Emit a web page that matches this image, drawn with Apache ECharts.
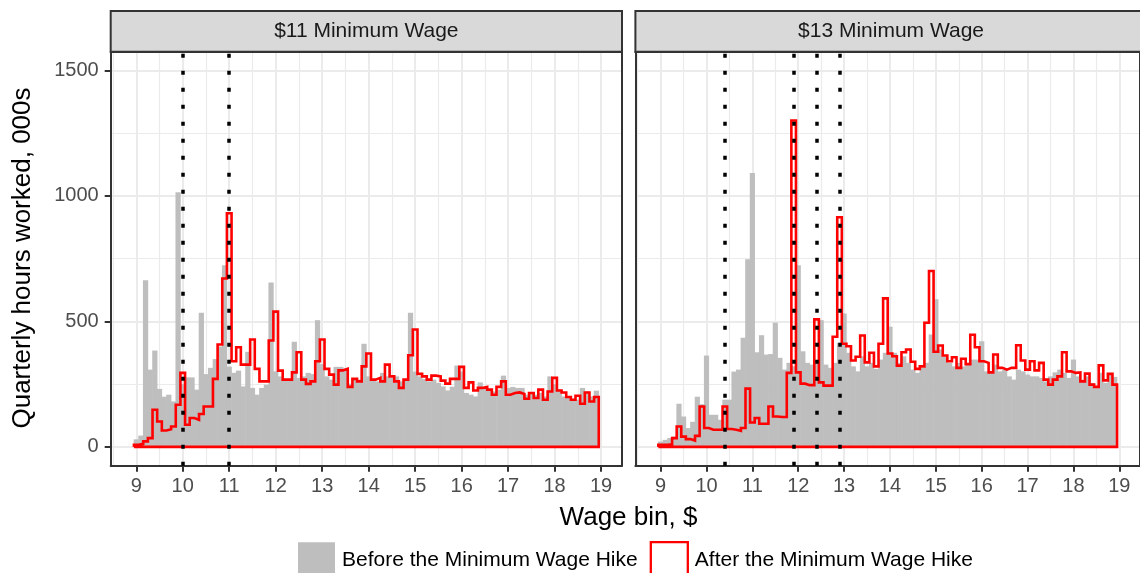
<!DOCTYPE html>
<html>
<head>
<meta charset="utf-8">
<script src="https://cdn.jsdelivr.net/npm/echarts@6/dist/echarts.min.js"></script>
<style>
html,body{margin:0;padding:0;background:#fff;}
#chart{width:1140px;height:573px;}
</style>
</head>
<body>
<div id="chart"></div>
<script>
// wage bins: 10 cent bins, centres 9.0 .. 18.9
var binStart = 9.0;
var binWidth = 0.1;
var binCount = 100;

// quarterly hours worked (000s) per bin, $11 minimum wage
var before11 = [30,45,664,308,384,231,200,208,181,1015,
  250,277,277,228,535,290,315,350,400,724,
  320,295,304,241,379,235,208,235,248,655,
  301,281,268,268,419,275,281,295,290,505,
  330,281,268,319,319,308,252,268,268,411,
  281,268,261,295,281,275,281,261,271,535,
  300,281,271,261,268,255,241,225,240,324,
  300,215,208,201,257,241,231,221,228,284,
  235,239,235,235,208,215,208,215,201,281,
  250,228,201,195,188,188,235,221,201,224];
var after11 = [8,12,22,35,148,101,65,70,81,168,
  295,88,115,108,131,161,161,271,408,671,
  931,341,397,328,328,428,311,261,261,424,
  539,304,268,268,297,377,268,251,261,341,
  428,311,288,248,305,311,239,271,261,321,
  372,268,275,261,328,281,261,235,268,365,
  468,291,281,268,284,281,264,252,271,271,
  319,235,257,225,235,239,228,208,239,261,
  208,215,217,211,192,215,195,228,188,221,
  275,225,217,199,188,204,172,217,181,199];

// $13 minimum wage
var before13 = [21,28,35,41,172,121,75,100,200,170,
  364,128,128,108,188,188,300,308,435,748,
  1092,377,445,368,370,495,355,308,335,321,
  724,381,335,328,335,505,328,315,335,415,
  532,375,321,301,361,321,335,311,348,375,
  479,375,335,361,335,308,295,315,335,448,
  588,388,361,335,321,335,321,330,348,348,
  421,301,295,328,301,308,281,268,308,301,
  288,281,281,275,261,281,297,308,295,275,
  348,281,268,281,255,235,295,255,295,279];
var after13 = [8,8,10,35,81,41,31,25,44,161,
  75,68,68,68,161,71,68,64,75,232,
  97,115,92,92,161,121,119,119,295,1301,
  297,252,246,246,508,257,244,244,439,915,
  411,401,344,359,444,337,375,321,411,592,
  372,361,324,377,388,339,311,321,495,701,
  379,404,364,341,357,315,351,330,447,397,
  341,335,297,368,315,308,315,315,405,344,
  308,341,305,335,268,248,268,281,377,301,
  295,297,261,292,248,239,325,265,291,248];

// dotted reference lines
var hikeLines11 = [10, 11];
var hikeLines13 = [10.4, 11.9, 12.4, 12.9];

var xTicks = [9,10,11,12,13,14,15,16,17,18,19];
var xMinor = [8.5,9.5,10.5,11.5,12.5,13.5,14.5,15.5,16.5,17.5,18.5];
var yTicks = [0,500,1000,1500];
var yMinor = [250,750,1250];

var FONT = '"Liberation Sans", Arial, sans-serif';
var BORDER = '#333333';
var GRID = '#EBEBEB';
var nameBefore = 'Before the Minimum Wage Hike';
var nameAfter = 'After the Minimum Wage Hike';

var binCentres = [];
for (var i = 0; i < binCount; i++) {
  binCentres.push(+(binStart + binWidth * i).toFixed(2));
}

var panels = [
  {title: '$11 Minimum Wage', left: 110.7, before: before11, after: after11, lines: hikeLines11},
  {title: '$13 Minimum Wage', left: 635.4, before: before13, after: after13, lines: hikeLines13}
];
var panelTop = 51.7, panelW = 511.3, panelH = 414;

//outline of the "after" histogram, closed on the baseline
function outline(vals) {
  var half = binWidth / 2;
  var pts = [[binCentres[0] - half, 0]];
  for (var k = 0; k < vals.length; k++) {
    pts.push([binCentres[k] - half, vals[k]]);
    pts.push([binCentres[k] + half, vals[k]]);
  }
  pts.push([binCentres[vals.length - 1] + half, 0]);
  pts.push([binCentres[0] - half, 0]);
  return pts;
}

function renderBar(params, api) {
  var c = api.value(0), v = api.value(1);
  var p0 = api.coord([c - binWidth / 2, v]);
  var p1 = api.coord([c + binWidth / 2, 0]);
  // a little overlap so neighbouring bars don't leave seams
  return {
    type: 'rect',
    shape: {x: p0[0] - 0.3, y: p0[1], width: p1[0] - p0[0] + 0.6, height: p1[1] - p0[1]},
    style: {fill: '#BEBEBE'}
  };
}

function plainNum(v) { return String(v); }

var grids = [], xAxes = [], yAxes = [], series = [], graphics = [];

panels.forEach(function(p, g) {
  grids.push({left: p.left, top: panelTop, width: panelW, height: panelH, containLabel: false});

  // major x axis (bottom) + minor grid axis (top)
  xAxes.push({
    type: 'value', gridIndex: g, min: 8.45, max: 19.45, position: 'bottom',
    axisLine: {show: true, onZero: false, lineStyle: {color: BORDER, width: 2}},
    axisTick: {show: true, length: 6, customValues: xTicks, lineStyle: {color: BORDER, width: 2}},
    axisLabel: {show: true, customValues: xTicks, formatter: plainNum, color: '#4D4D4D', fontSize: 20, fontFamily: FONT, margin: 11},
    splitLine: {show: true, lineStyle: {color: GRID, width: 2}}
  });
  xAxes.push({
    type: 'value', gridIndex: g, min: 8.45, max: 19.45, position: 'top',
    axisLine: {show: true, onZero: false, lineStyle: {color: BORDER, width: 2}},
    axisTick: {show: false, customValues: xMinor},
    axisLabel: {show: false, customValues: xMinor},
    splitLine: {show: true, lineStyle: {color: GRID, width: 1.2}}
  });

  yAxes.push({
    type: 'value', gridIndex: g, min: -75, max: 1575, position: 'left',
    axisLine: {show: true, onZero: false, lineStyle: {color: BORDER, width: 2}},
    axisTick: {show: g == 0, length: 6, customValues: yTicks, lineStyle: {color: BORDER, width: 2}},
    axisLabel: {show: g == 0, customValues: yTicks, formatter: plainNum, color: '#4D4D4D', fontSize: 20, fontFamily: FONT, margin: 12},
    splitLine: {show: true, lineStyle: {color: GRID, width: 2}}
  });
  yAxes.push({
    type: 'value', gridIndex: g, min: -75, max: 1575, position: 'right',
    axisLine: {show: true, onZero: false, lineStyle: {color: BORDER, width: 2}},
    axisTick: {show: false, customValues: yMinor},
    axisLabel: {show: false, customValues: yMinor},
    splitLine: {show: true, lineStyle: {color: GRID, width: 1.2}}
  });

  series.push({
    name: nameBefore, type: 'custom', xAxisIndex: 2 * g, yAxisIndex: 2 * g,
    data: binCentres.map(function(c, k) { return [c, p.before[k]]; }),
    encode: {x: 0, y: 1},
    renderItem: renderBar,
    itemStyle: {color: '#BEBEBE'},
    silent: true, z: 2
  });
  series.push({
    name: nameAfter, type: 'line', xAxisIndex: 2 * g, yAxisIndex: 2 * g,
    data: outline(p.after),
    symbol: 'none', showSymbol: false,
    lineStyle: {color: '#FF0000', width: 2.6, join: 'miter'},
    itemStyle: {color: '#FF0000'},
    silent: true, z: 3,
    markLine: {
      silent: true, symbol: ['none', 'none'], label: {show: false},
      lineStyle: {color: '#000', width: 3.5, type: [4, 13]},
      emphasis: {disabled: true},
      data: p.lines.map(function(v) { return {xAxis: v}; })
    }
  });

  // facet strip
  graphics.push({
    type: 'rect', z: 10,
    shape: {x: p.left, y: 11, width: panelW, height: panelTop - 11},
    style: {fill: '#D9D9D9', stroke: BORDER, lineWidth: 2}
  });
  graphics.push({
    type: 'text', z: 11, x: p.left + panelW / 2, y: 31.5,
    style: {text: p.title, fill: '#1A1A1A', fontSize: 21, fontFamily: FONT, align: 'center', verticalAlign: 'middle'}
  });
});

graphics.push({
  type: 'text', x: 628.5, y: 518,
  style: {text: 'Wage bin, $', fill: '#000', fontSize: 26, fontFamily: FONT, align: 'center', verticalAlign: 'middle'}
});
graphics.push({
  type: 'text', x: 23, y: 258, rotation: Math.PI / 2,
  style: {text: 'Quarterly hours worked, 000s', fill: '#000', fontSize: 26, fontFamily: FONT, align: 'center', verticalAlign: 'middle'}
});

var chart = echarts.init(document.getElementById('chart'), null, {renderer: 'canvas'});
chart.setOption({
  animation: false,
  backgroundColor: '#fff',
  grid: grids,
  xAxis: xAxes,
  yAxis: yAxes,
  legend: {
    left: 298, top: 541, padding: 0, itemWidth: 37, itemHeight: 37, itemGap: 12,
    selectedMode: false,
    textStyle: {fontSize: 21, color: '#000', fontFamily: FONT, padding: [0, 0, 0, 2]},
    data: [
      {name: nameBefore, icon: 'rect', itemStyle: {color: '#BEBEBE', borderWidth: 0}},
      {name: nameAfter, icon: 'rect', itemStyle: {color: '#FFFFFF', borderColor: '#FF0000', borderWidth: 2.3}}
    ]
  },
  graphic: graphics,
  series: series
});
</script>
</body>
</html>
